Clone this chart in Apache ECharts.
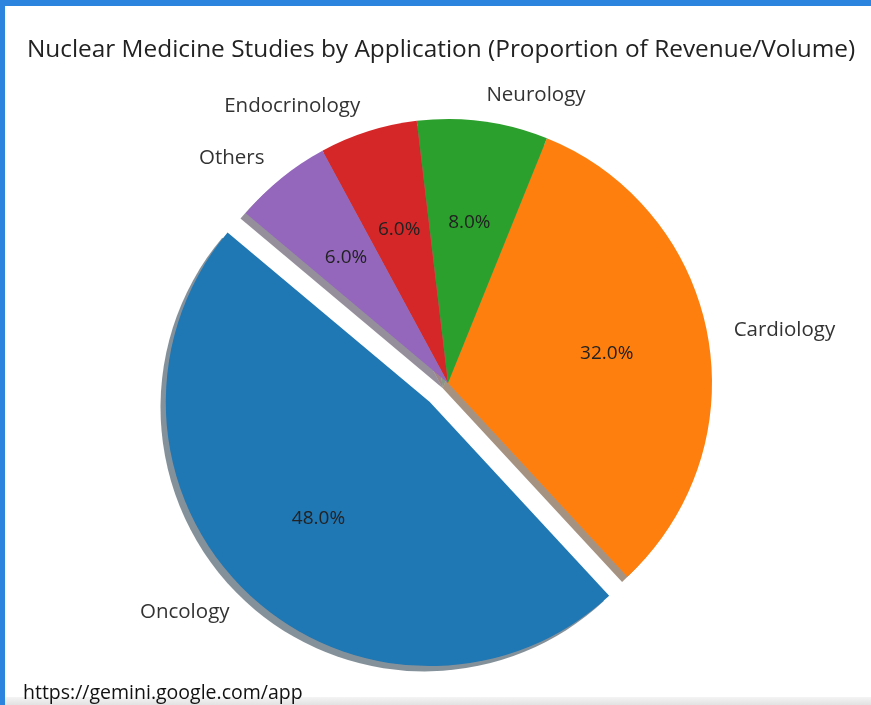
<!DOCTYPE html>
<html>
<head>
<meta charset="utf-8">
<script src="https://cdn.jsdelivr.net/npm/echarts@6/dist/echarts.min.js"></script>
<style>
  html, body { margin: 0; padding: 0; background: #fff; }
  #page { position: relative; width: 871px; height: 705px; overflow: hidden; background: #fff; }
  #topbar { position: absolute; left: 0; top: 0; width: 871px; height: 6px; background: #2b84de; }
  #leftbar { position: absolute; left: 0; top: 0; width: 5px; height: 705px; background: #2b84de; }
  #bottom { position: absolute; left: 5px; top: 697px; width: 866px; height: 8px;
            background: linear-gradient(#f4f4f4, #e2e2e2); }
  #url { position: absolute; left: 23px; top: 680px; font-family: "Open Sans", sans-serif;
         font-size: 19.5px; color: #111; line-height: 24px; }
  #chart { position: absolute; left: 0; top: 0; width: 871px; height: 705px; }
</style>
</head>
<body>
<div id="page">
  <div id="chart"></div>
  <div id="topbar"></div>
  <div id="leftbar"></div>
  <div id="bottom"></div>
  <div id="url">https://gemini.google.com/app</div>
</div>
<script>
// data (matplotlib-style pie, startangle 140, counterclockwise)
const categories = ["Oncology", "Cardiology", "Neurology", "Endocrinology", "Others"];
const shares = [48, 32, 8, 6, 6];
const colors = ["#1f77b4", "#ff7f0e", "#2ca02c", "#d62728", "#9467bd"];
const exploded = [true, false, false, false, false];

const cx = 448, cy = 383, r = 264;
const explodeOffset = r * 0.1;
const shadowShift = r * 0.02;
const fontFamily = "'Open Sans', sans-serif";

// matplotlib's shadow: 0.3 * face colour at alpha 0.5
function shadowColor(hex) {
  const n = parseInt(hex.slice(1), 16);
  const c = [(n >> 16) & 255, (n >> 8) & 255, n & 255].map((v) => Math.round(v * 0.3));
  return `rgba(${c[0]},${c[1]},${c[2]},0.5)`;
}

const total = shares.reduce((a, b) => a + b, 0);

const common = {
  type: "pie",
  startAngle: 140,
  clockwise: false,
  selectedMode: true,
  selectedOffset: explodeOffset,
  avoidLabelOverlap: false,
  animation: false,
  silent: true,
  emphasis: { disabled: true },
};

const chart = echarts.init(document.getElementById("chart"), null, { renderer: "canvas" });
chart.setOption({
  backgroundColor: "transparent",
  title: {
    text: "Nuclear Medicine Studies by Application (Proportion of Revenue/Volume)",
    left: 436,
    textAlign: "center",
    top: 33,
    textStyle: { fontFamily, fontSize: 24.4, fontWeight: "normal", color: "#222" },
  },
  series: [
    {
      ...common,
      name: "shadow",
      z: 1,
      center: [cx - shadowShift, cy + shadowShift],
      radius: [0, r],
      label: { show: false },
      labelLine: { show: false },
      data: categories.map((name, i) => ({
        name, value: shares[i], selected: exploded[i],
        itemStyle: { color: shadowColor(colors[i]), borderWidth: 0 },
      })),
    },
    {
      ...common,
      name: "wedges",
      z: 2,
      center: [cx, cy],
      radius: [0, r],
      itemStyle: { borderWidth: 0 },
      label: {
        show: true,
        position: "outside",
        distanceToLabelLine: 0,
        fontFamily, fontSize: 20.5, color: "#333",
        formatter: "{b}",
      },
      labelLine: { show: false, length: explodeOffset, length2: 0 },
      data: categories.map((name, i) => ({
        name, value: shares[i], selected: exploded[i],
        itemStyle: { color: colors[i] },
      })),
    },
    {
      ...common,
      name: "pct",
      z: 3,
      center: [cx, cy],
      radius: [0, r * 1.2],
      itemStyle: { color: "transparent", borderWidth: 0 },
      label: {
        show: true,
        position: "inside",
        fontFamily, fontSize: 19, color: "#222",
        formatter: (p) => (p.value / total * 100).toFixed(1) + "%",
      },
      labelLine: { show: false },
      data: categories.map((name, i) => ({
        name, value: shares[i], selected: exploded[i],
      })),
    },
  ],
});
</script>
</body>
</html>
